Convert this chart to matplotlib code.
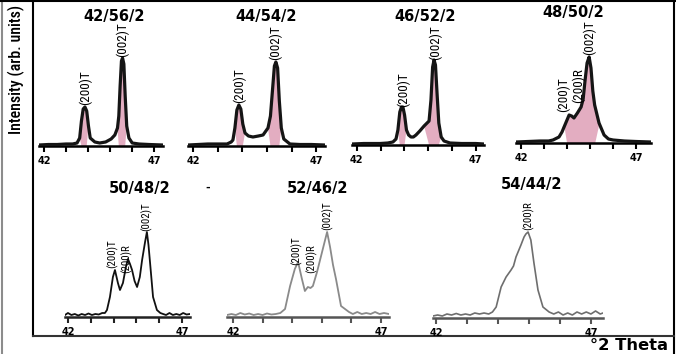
import numpy as np
import matplotlib
matplotlib.use('Agg')
import matplotlib.pyplot as plt
from matplotlib import font_manager

# ---- data (2theta in degrees, intensity in arb. units) ----
titles = ['42/56/2', '44/54/2', '46/52/2', '48/50/2', '50/48/2', '52/46/2', '54/44/2']

theta_4256 = [41.77, 42.2, 42.6, 43.0, 43.3, 43.5, 43.62, 43.70, 43.78, 43.86, 43.94, 44.02, 44.10,
              44.31, 44.53, 44.80, 45.05, 45.22, 45.34, 45.40, 45.46, 45.52, 45.57, 45.63, 45.69,
              45.76, 45.86, 46.01, 46.32, 46.77, 47.41]
int_4256 = [1, 1.5, 1.5, 2, 2, 3, 8, 25, 37, 39, 35, 20, 8, 4, 3, 4, 7, 11, 18, 30, 60, 85, 88, 82,
            50, 20, 8, 3, 2, 1.5, 1]

theta_4454 = [41.8, 42.2, 42.6, 43.0, 43.38, 43.55, 43.62, 43.70, 43.78, 43.86, 43.94, 44.02, 44.11,
              44.25, 44.43, 44.65, 44.84, 45.04, 45.14, 45.22, 45.30, 45.36, 45.43, 45.50, 45.58,
              45.68, 45.93, 46.33, 46.8, 47.35]
int_4454 = [1, 1.5, 2, 2, 2, 4, 6, 18, 36, 41, 37, 22, 13, 10, 9, 10, 11, 18, 30, 55, 80, 84, 78,
            45, 18, 7, 2, 1.5, 1.5, 1]

theta_4652 = [41.8, 42.3, 42.98, 43.3, 43.52, 43.65, 43.73, 43.81, 43.88, 43.94, 44.01, 44.09, 44.18,
              44.28, 44.38, 44.49, 44.65, 44.83, 45.04, 45.12, 45.19, 45.25, 45.31, 45.38, 45.45,
              45.55, 45.67, 45.92, 46.4, 47.0, 47.35]
int_4652 = [1, 1.5, 1.5, 2, 3, 6, 15, 33, 38, 38, 30, 15, 10, 8, 8, 10, 14, 19, 24, 45, 78, 85, 80,
            50, 22, 8, 4, 2, 1.5, 1.5, 1]

theta_4850 = [41.78, 42.3, 42.83, 43.2, 43.39, 43.65, 43.78, 43.87, 43.98, 44.09, 44.20, 44.30, 44.45,
              44.61, 44.70, 44.78, 44.87, 44.96, 45.04, 45.12, 45.20, 45.39, 45.61, 45.80, 46.0,
              46.5, 47.0, 47.65]
int_4850 = [1, 1.5, 2, 2, 3, 6, 11, 16, 22, 28, 27, 25, 30, 36, 44, 62, 80, 86, 75, 52, 38, 20, 8,
            4, 3, 2, 1.5, 1]

theta_5048 = [41.87, 42.0, 42.15, 42.3, 42.45, 42.6, 42.75, 42.9, 43.05, 43.2, 43.35, 43.5, 43.62,
              43.71, 43.84, 43.97, 44.06, 44.13, 44.19, 44.28, 44.41, 44.54, 44.63, 44.72, 44.81,
              44.92, 45.03, 45.15, 45.25, 45.38, 45.46, 45.53, 45.60, 45.73, 45.90, 46.05, 46.17,
              46.3, 46.45, 46.6, 46.75, 46.9, 47.05, 47.2, 47.35]
int_5048 = [2, 4, 2, 3, 1.5, 3, 2, 3.5, 2, 3, 2.5, 4, 4, 7, 20, 40, 47, 40, 34, 27, 34, 50, 58, 53,
            47, 36, 30, 40, 57, 75, 85, 72, 54, 20, 7, 4, 3, 2, 4, 2, 3, 2, 4, 2.5, 3]

theta_5246 = [41.8, 41.95, 42.1, 42.25, 42.4, 42.55, 42.7, 42.85, 43.0, 43.15, 43.3, 43.45, 43.6,
              43.76, 43.93, 44.09, 44.20, 44.33, 44.43, 44.53, 44.62, 44.70, 44.84, 45.01, 45.18,
              45.28, 45.38, 45.48, 45.65, 45.92, 46.05, 46.2, 46.35, 46.5, 46.65, 46.8, 46.95,
              47.1, 47.27]
int_5246 = [2, 3, 2, 4, 2.5, 3.5, 2, 3, 2, 3.5, 2.5, 3, 4, 8, 31, 48, 55, 38, 26, 30, 29, 31, 45,
            65, 85, 70, 52, 38, 11, 5, 3, 5, 3, 4, 3, 5, 3, 4, 3]

theta_5444 = [41.9, 42.05, 42.2, 42.35, 42.5, 42.65, 42.8, 42.95, 43.1, 43.25, 43.4, 43.55, 43.7,
              43.82, 43.94, 44.10, 44.26, 44.42, 44.50, 44.58, 44.74, 44.84, 44.90, 44.97, 45.06,
              45.16, 45.29, 45.45, 45.65, 45.8, 45.95, 46.1, 46.25, 46.4, 46.55, 46.7, 46.85,
              47.0, 47.15, 47.3, 47.39]
int_5444 = [2, 3, 2, 4, 3, 4.5, 3, 4, 3, 5, 4, 5, 4, 6, 11, 31, 41, 48, 52, 61, 73, 81, 84, 86, 78,
            55, 28, 11, 6, 4, 6, 3, 5, 3, 6, 4, 6, 4, 7, 4, 5]

# peak labels: name, 2theta, height where the label starts
peaks_names = [['(200)T', '(002)T'], ['(200)T', '(002)T'], ['(200)T', '(002)T'],
               ['(200)T', '(200)R', '(002)T'], ['(200)T', '(200)R', '(002)T'],
               ['(200)T', '(200)R', '(002)T'], ['(200)R']]
peaks_theta = [[43.86, 45.57], [43.9, 45.36], [43.98, 45.29], [43.83, 44.48, 44.96],
               [43.97, 44.57, 45.46], [44.16, 44.67, 45.21], [45.0]]
peaks_height = [[41, 89], [43, 86], [38, 85], [31, 40, 88], [49, 44, 86], [52, 44, 87], [88]]

thetas = [theta_4256, theta_4454, theta_4652, theta_4850, theta_5048, theta_5246, theta_5444]
ints = [int_4256, int_4454, int_4652, int_4850, int_5048, int_5246, int_5444]

# ---- layout (pixels in a 676x354 picture) ----
W, H = 676, 354
# left, right, baseline y, x-limits
boxes = [(39, 163, 146, (41.77, 47.41)),
         (188, 325, 146, (41.8, 47.35)),
         (352, 484, 145, (41.8, 47.35)),
         (516, 651, 143, (41.78, 47.65)),
         (65, 190, 317, (41.87, 47.35)),
         (227, 389, 317, (41.8, 47.27)),
         (433, 603, 318, (41.9, 47.39))]
title_xy = [(114, 16), (266, 16), (425, 17), (573, 13), (140, 188), (318, 188), (532, 185)]
line_colors = ['#151515'] * 4 + ['#111111', '#8a8a8a', '#6e6e6e']
line_widths = [2.3] * 4 + [1.3, 1.3, 1.2]
spine_colors = ['black'] * 4 + ['#222222', '#555555', '#555555']


def pick_font(cands):
    names = {f.name for f in font_manager.fontManager.ttflist}
    for c in cands:
        if c in names:
            return c
    return 'DejaVu Sans'


narrow = pick_font(['Liberation Sans Narrow', 'DejaVu Sans Condensed', 'Roboto Condensed', 'Liberation Sans'])

fig = plt.figure(figsize=(W / 100, H / 100), dpi=100)
bg = fig.add_axes([0, 0, 1, 1])
bg.set_xlim(0, W)
bg.set_ylim(H, 0)
bg.axis('off')

# frame
bg.plot([2, 2], [0, H], color='#8c8c8c', lw=1.5)
bg.plot([0, W], [1, 1], color='black', lw=1.5)
bg.plot([674, 674], [0, H], color='black', lw=1.5)
bg.plot([33, 33], [0, 336], color='black', lw=1.5)
bg.plot([33, 674], [336, 336], color='#333333', lw=1.5)

bg.text(16, 69, 'Intensity (arb. units)', rotation=90, ha='center', va='center',
        fontsize=11.5, family=narrow, fontweight='medium')
bg.text(668, 346, '°2 Theta', ha='right', va='center', fontsize=11.8, fontweight='bold')
bg.text(208, 188, '-', ha='center', va='center', fontsize=8, fontweight='bold')

for i in range(7):
    left, right, base, xl = boxes[i]
    ax = fig.add_axes([left / W, (H - base) / H, (right - left) / W, 100 / H])
    ax.patch.set_visible(False)
    x = np.array(thetas[i])
    y = np.array(ints[i])
    ax.plot(x, y, color=line_colors[i], lw=line_widths[i], zorder=3, solid_joinstyle='round')
    if i < 4:
        ax.fill_between(x, y, 0, where=y > 0.25 * y.max(), interpolate=True, color='#c24a76',
                        alpha=0.45, lw=0, zorder=2)
    ax.set_xlim(*xl)
    ax.set_ylim(0, 100)
    for s in ['top', 'right', 'left']:
        ax.spines[s].set_visible(False)
    ax.spines['bottom'].set_color(spine_colors[i])
    ax.spines['bottom'].set_linewidth(1.8)
    ax.set_yticks([])
    ax.set_xticks([42, 43, 44, 45, 46, 47])
    ax.set_xticklabels(['42', '', '', '', '', '47'], fontsize=7, fontweight='bold')
    ax.tick_params(axis='x', direction='out', length=4, width=1.5, pad=3,
                   color=spine_colors[i])
    fs = 9.5 if i < 4 else 7.8
    for name, pt, ph in zip(peaks_names[i], peaks_theta[i], peaks_height[i]):
        ax.text(pt, ph, name, rotation=90, ha='center', va='bottom', fontsize=fs,
                family=narrow, clip_on=False)
    tx, ty = title_xy[i]
    bg.text(tx, ty, titles[i], ha='center', va='center', fontsize=10.5, fontweight='bold')

fig.savefig('out.png', dpi=100)
